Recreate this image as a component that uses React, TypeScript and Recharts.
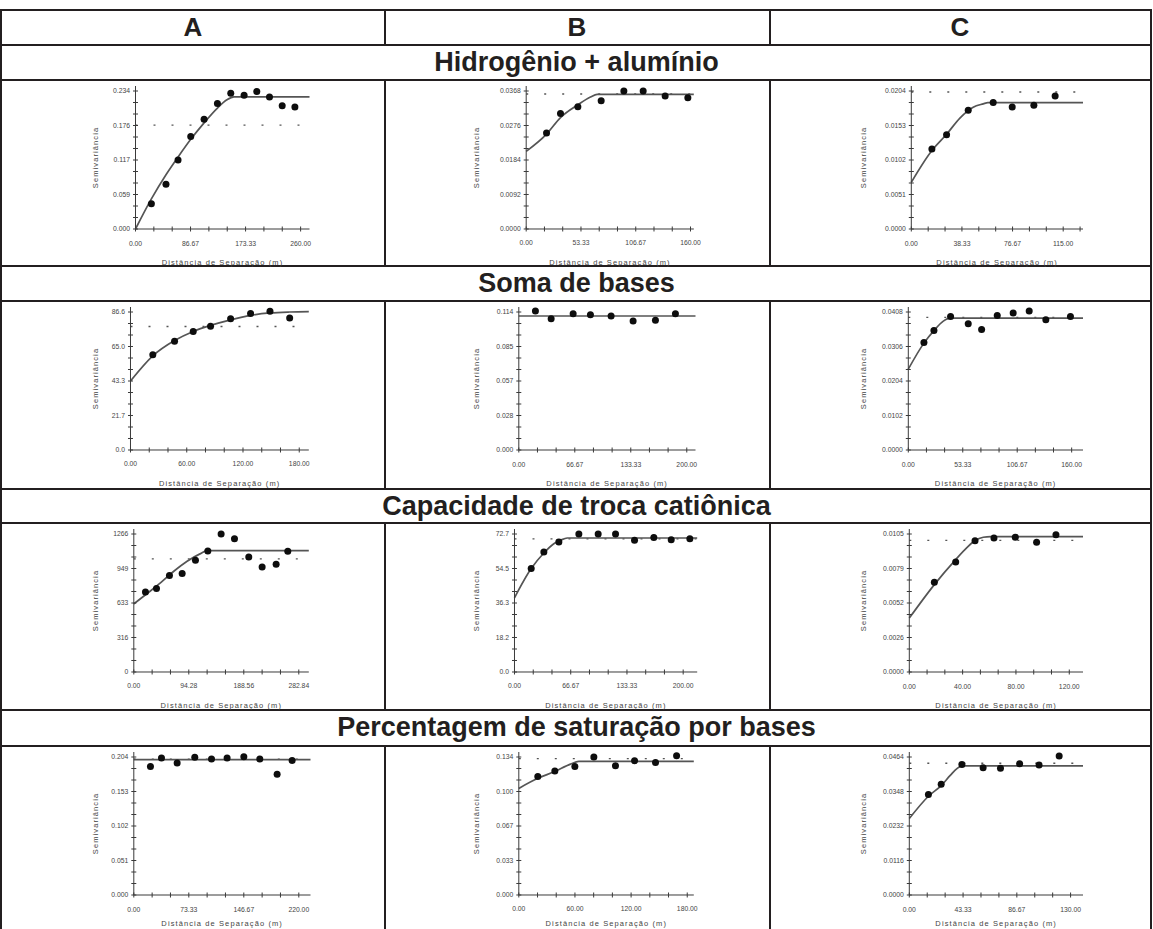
import React from "react";
import { ComposedChart, Line, Scatter, XAxis, YAxis, ReferenceLine, Label } from "recharts";

const FONT = '"Liberation Sans", Arial, sans-serif';
const INK = "#231f20";
const AXIS = "#3a3a3a";
const TXT = "#444";

const columnNames = ["A", "B", "C"];
const sections = [
  "Hidrogênio + alumínio",
  "Soma de bases",
  "Capacidade de troca catiônica",
  "Percentagem de saturação por bases",
];

// ---- Hidrogênio + alumínio ----
const halA_x = ["0.00", "86.67", "173.33", "260.00"];
const halA_y = ["0.000", "0.059", "0.117", "0.176", "0.234"];
const halA_pts = [[25, 0.043], [48, 0.076], [67, 0.117], [87, 0.157], [108, 0.186], [129, 0.213], [150, 0.23], [171, 0.227], [191, 0.233], [211, 0.224], [231, 0.209], [251, 0.207]];
const halA_fit = [[0, 0], [25, 0.051], [48, 0.092], [67, 0.122], [87, 0.152], [108, 0.18], [129, 0.205], [144, 0.219], [155, 0.224], [274, 0.224]];

const halB_x = ["0.00", "53.33", "106.67", "160.00"];
const halB_y = ["0.0000", "0.0092", "0.0184", "0.0276", "0.0368"];
const halB_pts = [[19.8, 0.0256], [33.4, 0.0308], [50.3, 0.0326], [73, 0.0342], [95.1, 0.0368], [113.9, 0.0368], [135.3, 0.0355], [157.4, 0.035]];
const halB_fit = [[0, 0.0207], [19.8, 0.0253], [33.4, 0.0297], [50.3, 0.0331], [62.6, 0.0352], [69.1, 0.0359], [163.2, 0.0359]];

const halC_x = ["0.00", "38.33", "76.67", "115.00"];
const halC_y = ["0.0000", "0.0051", "0.0102", "0.0153", "0.0204"];
const halC_pts = [[15.6, 0.01184], [26.7, 0.01394], [43.1, 0.01756], [62, 0.01869], [76.4, 0.01805], [92.8, 0.0183], [108.9, 0.01967]];
const halC_fit = [[0, 0.0069], [15.6, 0.0116], [26.7, 0.014], [36.8, 0.0164], [46.9, 0.018], [54.5, 0.0185], [58, 0.01869], [130, 0.01869]];

// ---- Soma de bases ----
const sbA_x = ["0.00", "60.00", "120.00", "180.00"];
const sbA_y = ["0.0", "21.7", "43.3", "65.0", "86.6"];
const sbA_pts = [[23.8, 59.8], [47, 68.2], [66.9, 74.4], [85.4, 77.7], [106.8, 82.4], [128.1, 85.6], [148.8, 87.0], [169.8, 82.8]];
const sbA_fit = [[0, 43.3], [23.8, 59.1], [47, 68.7], [66.9, 74.4], [85.4, 78.2], [106.8, 81.7], [128.1, 84.5], [148.8, 86.0], [169.8, 86.6], [190.2, 86.8]];

const sbB_x = ["0.00", "66.67", "133.33", "200.00"];
const sbB_y = ["0.000", "0.028", "0.057", "0.085", "0.114"];
const sbB_pts = [[19.8, 0.1148], [38.5, 0.1084], [64.7, 0.1126], [85.3, 0.1118], [109.9, 0.1107], [136.1, 0.1065], [162.7, 0.1071], [186.5, 0.1126]];
const sbB_fit = [[0, 0.1107], [210.4, 0.1107]];

const sbC_x = ["0.00", "53.33", "106.67", "160.00"];
const sbC_y = ["0.0000", "0.0102", "0.0204", "0.0306", "0.0408"];
const sbC_pts = [[15.3, 0.0318], [25.1, 0.0353], [41.4, 0.0395], [58.7, 0.0373], [71.8, 0.0356], [87.1, 0.0398], [102.7, 0.0405], [118.4, 0.0411], [134.7, 0.0385], [158.8, 0.0395]];
const sbC_fit = [[0, 0.0239], [15.3, 0.0316], [25.1, 0.0353], [34.3, 0.0381], [40.8, 0.039], [171.1, 0.039]];

// ---- Capacidade de troca catiônica ----
const ctcA_x = ["0.00", "94.28", "188.56", "282.84"];
const ctcA_y = ["0", "316", "633", "949", "1266"];
const ctcA_pts = [[20, 735], [38.9, 766], [61.1, 885], [82.9, 903], [105.7, 1025], [126.9, 1110], [149.7, 1266], [172.6, 1223], [197.1, 1055], [220, 964], [244, 988], [264, 1107]];
const ctcA_fit = [[0, 625], [22.9, 720], [45.7, 817], [68.6, 924], [91.4, 1016], [114.3, 1086], [125.7, 1113], [300, 1113]];

const ctcB_x = ["0.00", "66.67", "133.33", "200.00"];
const ctcB_y = ["0.0", "18.2", "36.3", "54.5", "72.7"];
const ctcB_pts = [[19.8, 54.5], [34.8, 63.2], [52.6, 68.5], [76.3, 72.7], [99.2, 72.7], [119.8, 72.7], [142.3, 69.4], [165.2, 70.9], [185.8, 69.7], [207.9, 70.2]];
const ctcB_fit = [[0, 39.1], [19.8, 54.5], [34.8, 62.7], [46.6, 67.6], [54.5, 69.4], [62.5, 70.6], [216.6, 70.6]];

const ctcC_x = ["0.00", "40.00", "80.00", "120.00"];
const ctcC_y = ["0.0000", "0.0026", "0.0052", "0.0079", "0.0105"];
const ctcC_pts = [[18.8, 0.00683], [34.8, 0.00837], [49.3, 0.00999], [63.5, 0.0102], [79.5, 0.01025], [95.5, 0.00987], [110, 0.01045]];
const ctcC_fit = [[0, 0.0041], [18.8, 0.00665], [34.8, 0.00855], [43, 0.00944], [49.3, 0.01], [55.5, 0.01025], [61, 0.0103], [130.3, 0.0103]];

// ---- Percentagem de saturação por bases ----
const vA_x = ["0.00", "73.33", "146.67", "220.00"];
const vA_y = ["0.000", "0.051", "0.102", "0.153", "0.204"];
const vA_pts = [[22.2, 0.19], [36.9, 0.2025], [57.8, 0.195], [81.3, 0.2035], [103.6, 0.201], [124.4, 0.2025], [146.7, 0.2045], [168, 0.201], [191.1, 0.1785], [211.1, 0.199]];
const vA_fit = [[0, 0.2], [235.6, 0.2]];

const vB_x = ["0.00", "60.00", "120.00", "180.00"];
const vB_y = ["0.000", "0.033", "0.067", "0.100", "0.134"];
const vB_pts = [[20.3, 0.115], [38.5, 0.1205], [59.9, 0.1248], [80.2, 0.134], [103.3, 0.1255], [123.7, 0.1304], [146.1, 0.1287], [168.6, 0.1353]];
const vB_fit = [[0, 0.1035], [20.3, 0.1133], [38.5, 0.1199], [55.2, 0.1271], [64.1, 0.1297], [187, 0.1297]];

const vC_x = ["0.00", "43.33", "86.67", "130.00"];
const vC_y = ["0.0000", "0.0116", "0.0232", "0.0348", "0.0464"];
const vC_pts = [[15.4, 0.0338], [25.7, 0.0372], [42.4, 0.0439], [59.5, 0.0428], [73.5, 0.0426], [88.9, 0.0441], [104.6, 0.0437], [120.8, 0.0467]];
const vC_fit = [[0, 0.0257], [15.4, 0.0332], [25.7, 0.0368], [33, 0.0402], [38.4, 0.0425], [42.4, 0.0434], [140, 0.0434]];

// sample variance (dotted line) per panel, null where not drawn
const sampleVar = [
  [0.176, 0.036, 0.02025],
  [77.5, null, 0.0392],
  [1037, 70.1, 0.01002],
  [0.201, 0.1324, 0.0443],
];

// table geometry
const ROW_TOPS = [80, 301, 523, 746];
const HEAD_TOPS = [45, 266, 489, 710];
const TABLE_TOP = 10;
const H_LINES = [10, 45, 80, 266, 301, 489, 523, 710, 746];
const V_LINES = [384.5, 769.5];
const COL_LEFT = [89.5, 470.5, 858];
const COL_CENTER = [193, 577, 960];
// baseline offset of the x title from the bottom of the axis band
const XTITLE_OFFSET = [7, 7, 7, 12];

type Panel = {
  row: number; col: number; axisX: number; plotW: number; xEnd: number;
  xLabels: string[]; yLabels: string[]; pts: number[][]; fit: number[][];
};

const panels: Panel[] = [
  { row: 0, col: 0, axisX: 135, plotW: 174, xEnd: 274, xLabels: halA_x, yLabels: halA_y, pts: halA_pts, fit: halA_fit },
  { row: 0, col: 1, axisX: 525.7, plotW: 167.6, xEnd: 163.2, xLabels: halB_x, yLabels: halB_y, pts: halB_pts, fit: halB_fit },
  { row: 0, col: 2, axisX: 911.3, plotW: 171.7, xEnd: 129.9, xLabels: halC_x, yLabels: halC_y, pts: halC_pts, fit: halC_fit },
  { row: 1, col: 0, axisX: 130, plotW: 178.3, xEnd: 190.2, xLabels: sbA_x, yLabels: sbA_y, pts: sbA_pts, fit: sbA_fit },
  { row: 1, col: 1, axisX: 518.3, plotW: 176.7, xEnd: 210.4, xLabels: sbB_x, yLabels: sbB_y, pts: sbB_pts, fit: sbB_fit },
  { row: 1, col: 2, axisX: 908.3, plotW: 174.7, xEnd: 171.1, xLabels: sbC_x, yLabels: sbC_y, pts: sbC_pts, fit: sbC_fit },
  { row: 2, col: 0, axisX: 133.3, plotW: 175, xEnd: 300, xLabels: ctcA_x, yLabels: ctcA_y, pts: ctcA_pts, fit: ctcA_fit },
  { row: 2, col: 1, axisX: 514, plotW: 182.7, xEnd: 216.6, xLabels: ctcB_x, yLabels: ctcB_y, pts: ctcB_pts, fit: ctcB_fit },
  { row: 2, col: 2, axisX: 909.3, plotW: 173.7, xEnd: 130.3, xLabels: ctcC_x, yLabels: ctcC_y, pts: ctcC_pts, fit: ctcC_fit },
  { row: 3, col: 0, axisX: 133.3, plotW: 176.7, xEnd: 235.6, xLabels: vA_x, yLabels: vA_y, pts: vA_pts, fit: vA_fit },
  { row: 3, col: 1, axisX: 518.3, plotW: 175, xEnd: 187, xLabels: vB_x, yLabels: vB_y, pts: vB_pts, fit: vB_fit },
  { row: 3, col: 2, axisX: 909.3, plotW: 173.7, xEnd: 140, xLabels: vC_x, yLabels: vC_y, pts: vC_pts, fit: vC_fit },
];

const CHART_H = 192;
const PLOT_TOP = 6;
const PLOT_H = 143;
const TICK_FS = 6.8;

function Semivariogram({ p }: { p: Panel }) {
  const left = COL_LEFT[p.col];
  const top = ROW_TOPS[p.row];
  const yAxisW = p.axisX - left;
  const width = yAxisW + p.plotW + 16;
  const xMax = parseFloat(p.xLabels[3]);
  const yMax = parseFloat(p.yLabels[4]);
  // the axis runs 5px above its top labelled tick
  const yTop = (yMax * PLOT_H) / (PLOT_H - 5);
  const xTicks: number[] = [];
  for (let i = 0; (i * xMax) / 9 <= p.xEnd + 1e-9; i++) xTicks.push((i * xMax) / 9);
  const yTicks = Array.from({ length: 13 }, (_, i) => (i * yMax) / 12);
  const pts = p.pts.map(([x, y]) => ({ x, y }));
  const fit = p.fit.map(([x, y]) => ({ x, y }));
  const sv = sampleVar[p.row][p.col];

  const xTick = (t: any) => (
    <g key={`x${t.index}`}>
      <line x1={t.x} x2={t.x} y1={t.y - 2.5} y2={t.y + 2.5} stroke={AXIS} strokeWidth={1} />
      {t.index % 3 === 0 && (
        <text x={t.x} y={t.y + 16.5} textAnchor="middle" fontSize={TICK_FS} fontFamily={FONT} fill={TXT}>
          {p.xLabels[t.index / 3]}
        </text>
      )}
    </g>
  );
  const yTick = (t: any) => (
    <g key={`y${t.index}`}>
      <line x1={t.x - 2.5} x2={t.x + 2.5} y1={t.y} y2={t.y} stroke={AXIS} strokeWidth={1} />
      {t.index % 3 === 0 && (
        <text x={t.x - 5.5} y={t.y + 2.4} textAnchor="end" fontSize={TICK_FS} fontFamily={FONT} fill={TXT}>
          {p.yLabels[t.index / 3]}
        </text>
      )}
    </g>
  );

  return (
    <div style={{ position: "absolute", left, top }}>
      <ComposedChart width={width} height={CHART_H} margin={{ top: PLOT_TOP, right: 16, bottom: 0, left: 0 }}>
        <XAxis
          type="number"
          dataKey="x"
          domain={[0, p.xEnd]}
          ticks={xTicks}
          interval={0}
          tick={xTick}
          tickLine={false}
          tickSize={0}
          tickMargin={0}
          height={CHART_H - PLOT_TOP - PLOT_H}
          axisLine={{ stroke: AXIS, strokeWidth: 1 }}
        >
          <Label
            value="Distância de Separação (m)"
            position="insideBottom"
            offset={XTITLE_OFFSET[p.row]}
            fontSize={7.5}
            fill={TXT}
            fontFamily={FONT}
            style={{ letterSpacing: "1.1px" }}
          />
        </XAxis>
        <YAxis
          type="number"
          dataKey="y"
          domain={[0, yTop]}
          ticks={yTicks}
          interval={0}
          tick={yTick}
          tickLine={false}
          tickSize={0}
          tickMargin={0}
          width={yAxisW}
          axisLine={{ stroke: AXIS, strokeWidth: 1 }}
        >
          <Label
            value="Semivariância"
            angle={-90}
            position="insideLeft"
            offset={5}
            fontSize={7.5}
            fill={TXT}
            fontFamily={FONT}
            style={{ textAnchor: "middle", letterSpacing: "1.1px" }}
          />
        </YAxis>
        {sv !== null && (
          <ReferenceLine y={sv} stroke="#555" strokeWidth={1.3} strokeDasharray="2 16" />
        )}
        <Line
          data={fit}
          dataKey="y"
          type="monotone"
          stroke="#555"
          strokeWidth={1.7}
          dot={false}
          activeDot={false}
          isAnimationActive={false}
        />
        <Scatter
          data={pts}
          isAnimationActive={false}
          shape={(s: any) => <circle cx={s.cx} cy={s.cy} r={3.5} fill="#0d0d0d" />}
        />
      </ComposedChart>
    </div>
  );
}

export default function App() {
  return (
    <div
      style={{
        position: "absolute",
        left: 0,
        top: 0,
        width: 1153,
        height: 929,
        background: "#fff",
        overflow: "hidden",
        fontFamily: FONT,
      }}
    >
      {/* column headers */}
      {columnNames.map((c, i) => (
        <div
          key={c}
          style={{
            position: "absolute",
            left: COL_CENTER[i] - 100,
            width: 200,
            top: TABLE_TOP,
            height: 35,
            lineHeight: "35px",
            textAlign: "center",
            fontWeight: "bold",
            fontSize: 26,
            color: INK,
          }}
        >
          {c}
        </div>
      ))}
      {/* section titles */}
      {sections.map((s, i) => (
        <div
          key={s}
          style={{
            position: "absolute",
            left: 0,
            width: 1153,
            top: HEAD_TOPS[i],
            height: 35,
            lineHeight: "35px",
            textAlign: "center",
            fontWeight: "bold",
            fontSize: 27,
            color: INK,
          }}
        >
          {s}
        </div>
      ))}
      {/* grid lines */}
      {H_LINES.map((y) => (
        <div key={`h${y}`} style={{ position: "absolute", left: 0, width: 1152, top: y - 1, height: 2, background: INK }} />
      ))}
      <div style={{ position: "absolute", left: 0, top: TABLE_TOP, width: 2, height: 929 - TABLE_TOP, background: INK }} />
      <div style={{ position: "absolute", left: 1150, top: TABLE_TOP, width: 2, height: 929 - TABLE_TOP, background: INK }} />
      {V_LINES.map((x) => (
        <React.Fragment key={`v${x}`}>
          <div style={{ position: "absolute", left: x - 1, top: TABLE_TOP, width: 2, height: 35, background: INK }} />
          {ROW_TOPS.map((t, r) => (
            <div
              key={`v${x}-${r}`}
              style={{
                position: "absolute",
                left: x - 1,
                top: t,
                width: 2,
                height: (r < 3 ? HEAD_TOPS[r + 1] : 929) - t,
                background: INK,
              }}
            />
          ))}
        </React.Fragment>
      ))}
      {panels.map((p) => (
        <Semivariogram key={`${p.row}-${p.col}`} p={p} />
      ))}
    </div>
  );
}
